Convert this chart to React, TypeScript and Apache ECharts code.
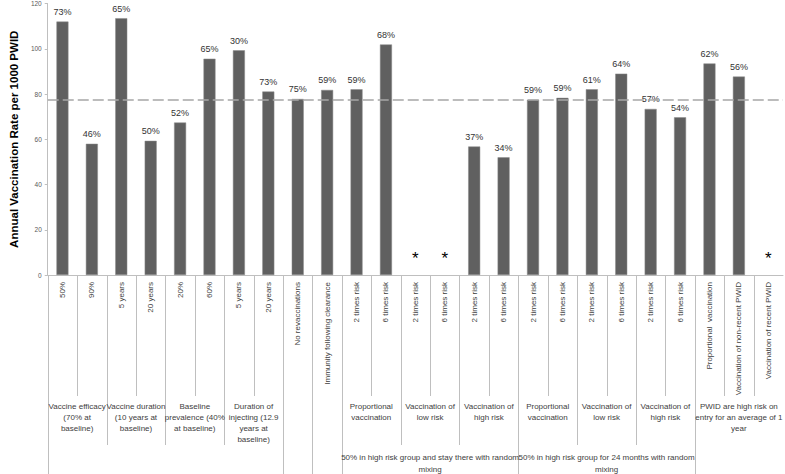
import React, { useEffect, useRef } from "react";
import * as echarts from "echarts";

const leafLabels = [
  "50%", "90%", "5 years", "20 years", "20%", "60%", "5 years", "20 years",
  "No revaccinations", "Immunity following clearance",
  "2 times risk", "6 times risk", "2 times risk", "6 times risk", "2 times risk", "6 times risk",
  "2 times risk", "6 times risk", "2 times risk", "6 times risk", "2 times risk", "6 times risk",
  "Proportional  vaccination", "Vaccination of non-recent PWID", "Vaccination of recent PWID",
];

const rates: (number | null)[] = [
  112, 58, 113.5, 59.3, 67.4, 95.6, 99.3, 81.1, 77.8, 81.8,
  82.1, 101.9, null, null, 56.8, 52, 77.5, 78.3, 82.1, 89, 73.4, 69.7,
  93.5, 87.7, null,
];

const pctLabels = [
  "73%", "46%", "65%", "50%", "52%", "65%", "30%", "73%", "75%", "59%",
  "59%", "68%", "*", "*", "37%", "34%", "59%", "59%", "61%", "64%", "57%", "54%",
  "62%", "56%", "*",
];

const baselineRate = 77.4;

const level2Groups = [
  { label: "Vaccine efficacy\n(70% at\nbaseline)", from: 0, to: 1 },
  { label: "Vaccine duration\n(10 years at\nbaseline)", from: 2, to: 3 },
  { label: "Baseline\nprevalence (40%\nat baseline)", from: 4, to: 5 },
  { label: "Duration of\ninjecting (12.9\nyears at\nbaseline)", from: 6, to: 7 },
  { label: "Proportional\nvaccination", from: 10, to: 11 },
  { label: "Vaccination of\nlow risk", from: 12, to: 13 },
  { label: "Vaccination of\nhigh risk", from: 14, to: 15 },
  { label: "Proportional\nvaccination", from: 16, to: 17 },
  { label: "Vaccination of\nlow risk", from: 18, to: 19 },
  { label: "Vaccination of\nhigh risk", from: 20, to: 21 },
  { label: "PWID are high risk on\nentry for an average of 1\nyear", from: 22, to: 24 },
];

const level3Groups = [
  { label: "", from: 0, to: 7 },
  { label: "50% in high risk group and stay there with random\nmixing", from: 10, to: 15 },
  { label: "50% in high risk group for 24 months with random\nmixing", from: 16, to: 21 },
];

const FONT = "Liberation Sans, Arial, sans-serif";
const W = 785;
const H = 474;

export default function App() {
  const ref = useRef<HTMLDivElement>(null);

  useEffect(() => {
    document.body.style.margin = "0";
    if (!ref.current) return;
    const chart = echarts.init(ref.current, null, { renderer: "svg", width: W, height: H });

    const barData = rates.map((v, i) => {
      if (v === null) {
        return {
          value: 0,
          itemStyle: { borderWidth: 0, color: "rgba(0,0,0,0)", borderColor: "rgba(0,0,0,0)" },
          label: {
            show: true,
            formatter: pctLabels[i],
            fontSize: 17,
            color: "#000",
            distance: 8,
          },
        };
      }
      return { value: v, label: { show: true, formatter: pctLabels[i] } };
    });

    chart.setOption({
      animation: false,
      grid: { left: 32, right: 2, top: 3, bottom: H - 275, containLabel: false },
      xAxis: {
        type: "category",
        data: leafLabels,
        axisLine: { show: true, lineStyle: { color: "#bfbfbf", width: 1 } },
        axisTick: { show: false },
        axisLabel: {
          interval: 0,
          rotate: 90,
          fontSize: 8,
          fontFamily: FONT,
          color: "#404040",
          margin: 7,
        },
      },
      yAxis: {
        type: "value",
        min: 0,
        max: 120,
        interval: 20,
        name: "Annual Vaccination Rate per 1000 PWID",
        nameLocation: "middle",
        nameGap: 18.5,
        nameTextStyle: { fontSize: 11.5, fontWeight: "bold", fontFamily: FONT, color: "#000" },
        axisLine: { show: true, lineStyle: { color: "#bfbfbf", width: 1 } },
        axisTick: { show: true, length: 3, lineStyle: { color: "#bfbfbf" } },
        axisLabel: { fontSize: 6.5, fontFamily: FONT, color: "#595959", margin: 6 },
        splitLine: { show: false },
      },
      series: [
        {
          type: "bar",
          data: barData,
          barWidth: 12,
          itemStyle: { color: "#606060", borderColor: "#8a8a8a", borderWidth: 0.5 },
          label: {
            show: true,
            position: "top",
            distance: 5,
            fontSize: 9,
            fontFamily: FONT,
            color: "#333",
          },
          markLine: {
            silent: true,
            symbol: "none",
            label: { show: false },
            lineStyle: { type: [11, 4], color: "#a6a6a6", width: 1.5 },
            data: [{ yAxis: baselineRate }],
          },
        },
      ],
    });

    const c0 = chart.convertToPixel({ xAxisIndex: 0 }, 0) as number;
    const c1 = chart.convertToPixel({ xAxisIndex: 0 }, 1) as number;
    const bw = c1 - c0;
    const y0 = chart.convertToPixel({ yAxisIndex: 0 }, 0) as number;
    const bx = (b: number) => c0 + (b - 0.5) * bw;
    const leafEnd = y0 + 121;
    const l2End = y0 + 170;
    const bottom = H;

    const graphics: any[] = [];
    const n = leafLabels.length;
    for (let b = 0; b < n; b++) {
      const inside2 = level2Groups.some((g) => g.from < b && b <= g.to);
      const inside3 = level3Groups.some((g) => g.from < b && b <= g.to);
      const yEnd = inside2 ? leafEnd : inside3 ? l2End : bottom;
      const x = Math.round(bx(b)) + 0.5;
      graphics.push({
        type: "line",
        silent: true,
        shape: { x1: x, y1: y0, x2: x, y2: yEnd },
        style: { stroke: "#bfbfbf", lineWidth: 1 },
      });
    }
    level2Groups.forEach((g) => {
      const cx = (bx(g.from) + bx(g.to + 1)) / 2;
      graphics.push({
        type: "text",
        silent: true,
        x: cx,
        y: y0 + 126,
        style: {
          text: g.label,
          align: "center",
          verticalAlign: "top",
          fontSize: 8,
          fontFamily: FONT,
          lineHeight: 11,
          fill: "#404040",
        },
      });
    });
    level3Groups.forEach((g) => {
      if (!g.label) return;
      const cx = (bx(g.from) + bx(g.to + 1)) / 2;
      graphics.push({
        type: "text",
        silent: true,
        x: cx,
        y: y0 + 176,
        style: {
          text: g.label,
          align: "center",
          verticalAlign: "top",
          fontSize: 8,
          fontFamily: FONT,
          lineHeight: 12,
          fill: "#404040",
        },
      });
    });
    chart.setOption({ graphic: graphics });

    return () => chart.dispose();
  }, []);

  return (
    <div
      ref={ref}
      style={{ width: W, height: H, position: "absolute", left: 0, top: 0 }}
    />
  );
}
